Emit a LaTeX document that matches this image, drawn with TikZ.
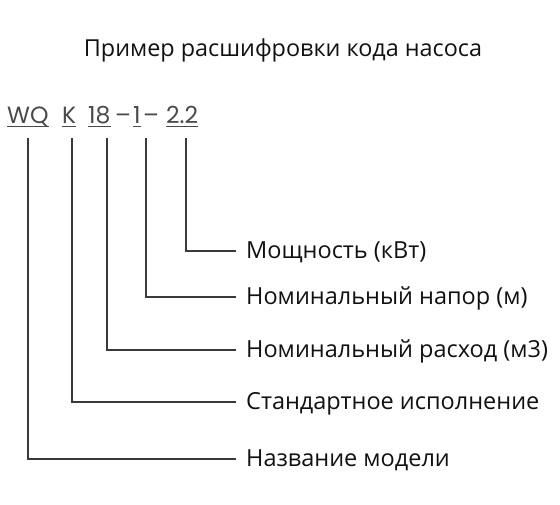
\documentclass[tikz,border=0pt]{standalone}
\usepackage{fontspec}
\setmainfont{Open Sans}
\newfontfamily\codefont{Poppins}
\definecolor{txt}{HTML}{111111}
\definecolor{ln}{HTML}{3A3A3A}
\definecolor{codec}{HTML}{4A4A4A}
\begin{document}
\begin{tikzpicture}[x=1pt,y=-1pt,
  lbl/.style={anchor=base west,inner sep=0pt,font=\fontsize{23.5}{28}\selectfont,text=txt},
  code/.style={anchor=base west,inner sep=0pt,font=\codefont\fontsize{23.5}{26}\selectfont,text=codec},
  conn/.style={draw=ln,line width=1.6pt},
  uline/.style={draw=codec,line width=0.9pt}]
\useasboundingbox (0,0) rectangle (560,504);
\node[anchor=base,inner sep=0pt,font=\fontsize{23.4}{28}\selectfont,text=txt] (title) at (283,56) {Пример расшифровки кода насоса};
% code parts
\node[code] (wq) at (7,123) {WQ};
\node[code] (k) at (62,123) {K};
\node[code] (n18) at (88,123) {18};
\node[code] (d1) at (115,123) {–};
\node[code] (n1) at (133,123) {1};
\node[code] (d2) at (143,123) {–};
\node[code] (n22) at (166,123) {2.2};
\foreach \c in {wq,k,n18,n1,n22}
  \draw[uline] ([yshift=-3pt]\c.base west) -- ([yshift=-3pt]\c.base east);
% line tops
\coordinate (t1) at (28,138);
\coordinate (t2) at (72,138);
\coordinate (t3) at (107,138);
\coordinate (t4) at (146,138);
\coordinate (t5) at (186,138);
% labels
\node[lbl] (l5) at (246,258.5) {Мощность (кВт)};
\node[lbl] (l4) at (246,304.5) {Номинальный напор (м)};
\node[lbl] (l3) at (246,357.5) {Номинальный расход (м3)};
\node[lbl] (l2) at (246,409.5) {Стандартное исполнение};
\node[lbl] (l1) at (246,466.5) {Название модели};
\foreach \t/\l in {t1/l1,t2/l2,t3/l3,t4/l4,t5/l5}
  \draw[conn] (\t) |- ([shift={(-10pt,7.5pt)}]\l.base west);
\end{tikzpicture}
\end{document}
